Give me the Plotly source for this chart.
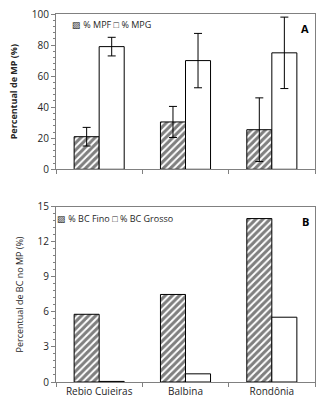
import plotly.graph_objects as go
from plotly.subplots import make_subplots

sites = ["Rebio Cuieiras", "Balbina", "Rondônia"]
mpf = [21, 30.5, 25.5]
mpf_err = [6, 10, 20.5]
mpg = [79, 70, 75]
mpg_err = [6, 17.5, 23]
bc_fino = [5.8, 7.5, 14.0]
bc_grosso = [0.05, 0.7, 5.55]
legend_a = ["% MPF", "% MPG"]
legend_b = ["% BC Fino", "% BC Grosso"]

FONT = "Open Sans"
AX = "#808080"
TXT = "#262626"

fig = make_subplots(rows=2, cols=1, vertical_spacing=0.1)

hatch = dict(shape="/", fgcolor="black", bgcolor="white", size=5, solidity=0.6)
line = dict(color="black", width=1)
eb = dict(type="data", color="black", thickness=1, width=4)

fig.add_trace(go.Bar(x=sites, y=mpf, name=legend_a[0], marker=dict(color="white", pattern=hatch, line=line),
                     error_y=dict(array=mpf_err, **eb)), row=1, col=1)
fig.add_trace(go.Bar(x=sites, y=mpg, name=legend_a[1], marker=dict(color="white", line=line),
                     error_y=dict(array=mpg_err, **eb)), row=1, col=1)
fig.add_trace(go.Bar(x=sites, y=bc_fino, name=legend_b[0], marker=dict(color="white", pattern=hatch, line=line)),
              row=2, col=1)
fig.add_trace(go.Bar(x=sites, y=bc_grosso, name=legend_b[1], marker=dict(color="white", line=line)),
              row=2, col=1)

H = 407
mt, mb = 10, 25
ph = H - mt - mb
def py(px):
    return (H - mb - px) / ph

fig.update_layout(
    width=322, height=407,
    margin=dict(l=56, r=6, t=mt, b=mb),
    paper_bgcolor="white", plot_bgcolor="white",
    barmode="group", bargap=0.42, bargroupgap=0,
    font=dict(family=FONT, size=9, color=TXT),
    showlegend=False,
    yaxis=dict(domain=[py(167), 1.0]),
    yaxis2=dict(domain=[0.0, py(205)]),
)

common_y = dict(showline=True, linecolor=AX, linewidth=1, mirror=True, ticks="outside",
                ticklen=4, tickcolor=AX, showgrid=False, zeroline=False,
                tickfont=dict(size=10, color=TXT))
common_x = dict(showline=True, linecolor=AX, linewidth=1, mirror=True, ticks="outside",
                ticklen=4, tickcolor=AX, showgrid=False, tickson="boundaries",
                tickfont=dict(size=10, color=TXT))

fig.update_yaxes(range=[0, 100], dtick=20, minor=dict(dtick=4, ticks="outside", ticklen=2, tickcolor=AX),
                 title=dict(text="<b>Percentual de MP (%)</b>", font=dict(size=9, color=TXT), standoff=12),
                 row=1, col=1, **common_y)
fig.update_yaxes(range=[0, 15], dtick=3, minor=dict(dtick=0.6, ticks="outside", ticklen=2, tickcolor=AX),
                 title=dict(text="Percentual de BC no MP (%)", font=dict(size=9, color=TXT), standoff=12),
                 row=2, col=1, **common_y)
fig.update_xaxes(showticklabels=False, row=1, col=1, **common_x)
fig.update_xaxes(row=2, col=1, **common_x)

# legends (as text)
fig.add_annotation(x=0.055, y=0.985, xref="x domain", yref="y domain",
                   text=f"▨ {legend_a[0]} □ {legend_a[1]}",
                   showarrow=False, xanchor="left", yanchor="top", font=dict(size=9, color=TXT))
fig.add_annotation(x=-0.005, y=0.985, xref="x2 domain", yref="y2 domain",
                   text=f"▨ {legend_b[0]} □ {legend_b[1]}",
                   showarrow=False, xanchor="left", yanchor="top", font=dict(size=9, color=TXT))

fig.add_annotation(x=0.985, y=0.97, xref="x domain", yref="y domain", text="<b>A</b>",
                   showarrow=False, xanchor="right", yanchor="top", font=dict(size=11, color="black"))
fig.add_annotation(x=0.985, y=0.97, xref="x2 domain", yref="y2 domain", text="<b>B</b>",
                   showarrow=False, xanchor="right", yanchor="top", font=dict(size=11, color="black"))

fig.write_html("out.html", config={"displayModeBar": False})

with open("out.html", "r", encoding="utf-8") as f:
    html = f.read()
html = html.replace("<head>", "<head><style>html,body{margin:0;padding:0;overflow:hidden;}</style>", 1)
with open("out.html", "w", encoding="utf-8") as f:
    f.write(html)
